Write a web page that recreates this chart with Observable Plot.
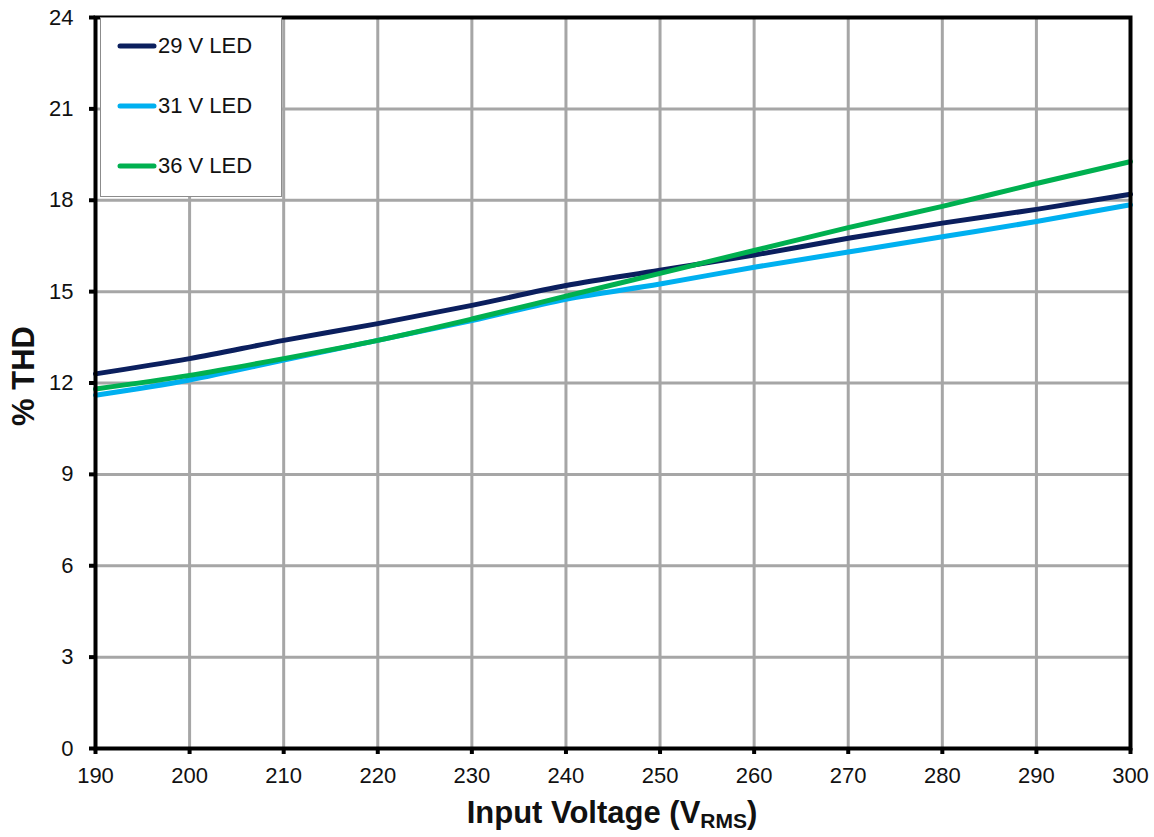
<!DOCTYPE html>
<html><head><meta charset="utf-8">
<script src="https://cdn.jsdelivr.net/npm/d3@7"></script>
<script src="https://cdn.jsdelivr.net/npm/@observablehq/plot@0.6"></script>
<style>
body{margin:0;background:#fff;font-family:"Liberation Sans",Arial,sans-serif;}
#wrap{position:relative;width:1154px;height:837px;}
#legend{position:absolute;left:100px;top:17px;width:182px;height:180px;background:#fff;border:1.5px solid #8c8c8c;box-sizing:border-box;font-size:22px;color:#111;}
.item{position:absolute;left:16px;display:flex;align-items:center;}
.item svg{margin-right:1px;}
</style></head>
<body><div id="wrap"><div id="chart"></div><div id="legend"></div></div>
<script>
const voltages = [190,200,210,220,230,240,250,260,270,280,290,300];
const thd29 = [12.3,12.8,13.4,13.95,14.55,15.2,15.7,16.2,16.75,17.25,17.7,18.2];
const thd31 = [11.6,12.1,12.75,13.4,14.05,14.75,15.25,15.8,16.3,16.8,17.3,17.85];
const thd36 = [11.8,12.25,12.8,13.4,14.1,14.85,15.6,16.35,17.1,17.8,18.55,19.27];
const seriesNames = ["29 V LED","31 V LED","36 V LED"];
const seriesColors = ["#0b1f5e","#00b0f0","#00b050"];
const xTicks = [190,200,210,220,230,240,250,260,270,280,290,300];
const yTicks = [0,3,6,9,12,15,18,21,24];

const rows = [];
[thd29,thd31,thd36].forEach((arr,i)=>arr.forEach((v,j)=>rows.push({series:seriesNames[i],x:voltages[j],y:v})));

const F = "'Liberation Sans',Arial,sans-serif";
const plot = Plot.plot({
  width:1154, height:837,
  marginLeft:95, marginRight:24, marginTop:17, marginBottom:89,
  style:{fontFamily:F,color:"#111",background:"#fff"},
  x:{domain:[190,300],label:null},
  y:{domain:[0,24],label:null},
  color:{domain:seriesNames,range:seriesColors},
  marks:[
    Plot.gridX(xTicks,{stroke:"#a6a6a6",strokeOpacity:1,strokeWidth:3}),
    Plot.gridY(yTicks,{stroke:"#a6a6a6",strokeOpacity:1,strokeWidth:3}),
    Plot.line(rows,{x:"x",y:"y",z:"series",stroke:"series",strokeWidth:5,curve:"monotone-x"}),
    Plot.frame({stroke:"#000",strokeWidth:4}),
    Plot.axisX({ticks:xTicks,tickSize:6,strokeWidth:4,stroke:"#000",tickFormat:()=>"",label:null}),
    Plot.axisY({ticks:yTicks,tickSize:6,strokeWidth:4,stroke:"#000",tickFormat:()=>"",label:null}),
    Plot.text(xTicks,{x:d=>d,y:()=>0,text:d=>String(d),dy:27,fontSize:22,fill:"#111",fontFamily:F}),
    Plot.text(yTicks,{x:()=>190,y:d=>d,text:d=>String(d),dx:-22,textAnchor:"end",fontSize:22,fill:"#111",fontFamily:F})
  ]
});
document.getElementById("chart").appendChild(plot);

const svg = d3.select(plot);
const xl = svg.append("text").attr("x",612).attr("y",823).attr("text-anchor","middle")
  .attr("fill","#111").style("font-family",F).style("font-size","31px").style("font-weight","bold");
xl.append("tspan").text("Input Voltage (V");
xl.append("tspan").style("font-size","21px").attr("dy",5).text("RMS");
xl.append("tspan").attr("dy",-5).text(")");
svg.append("text").attr("transform","translate(34,376) rotate(-90)").attr("text-anchor","middle")
  .attr("fill","#111").style("font-family",F).style("font-size","31px").style("font-weight","bold").text("% THD");

const leg = d3.select("#legend");
seriesNames.forEach((n,i)=>{
  const it = leg.append("div").attr("class","item").style("top",(15+i*60)+"px");
  const s = it.append("svg").attr("width",40).attr("height",26);
  s.append("line").attr("x1",3).attr("x2",37).attr("y1",13).attr("y2",13)
   .attr("stroke",seriesColors[i]).attr("stroke-width",5).attr("stroke-linecap","round");
  it.append("span").text(n);
});
</script></body></html>
